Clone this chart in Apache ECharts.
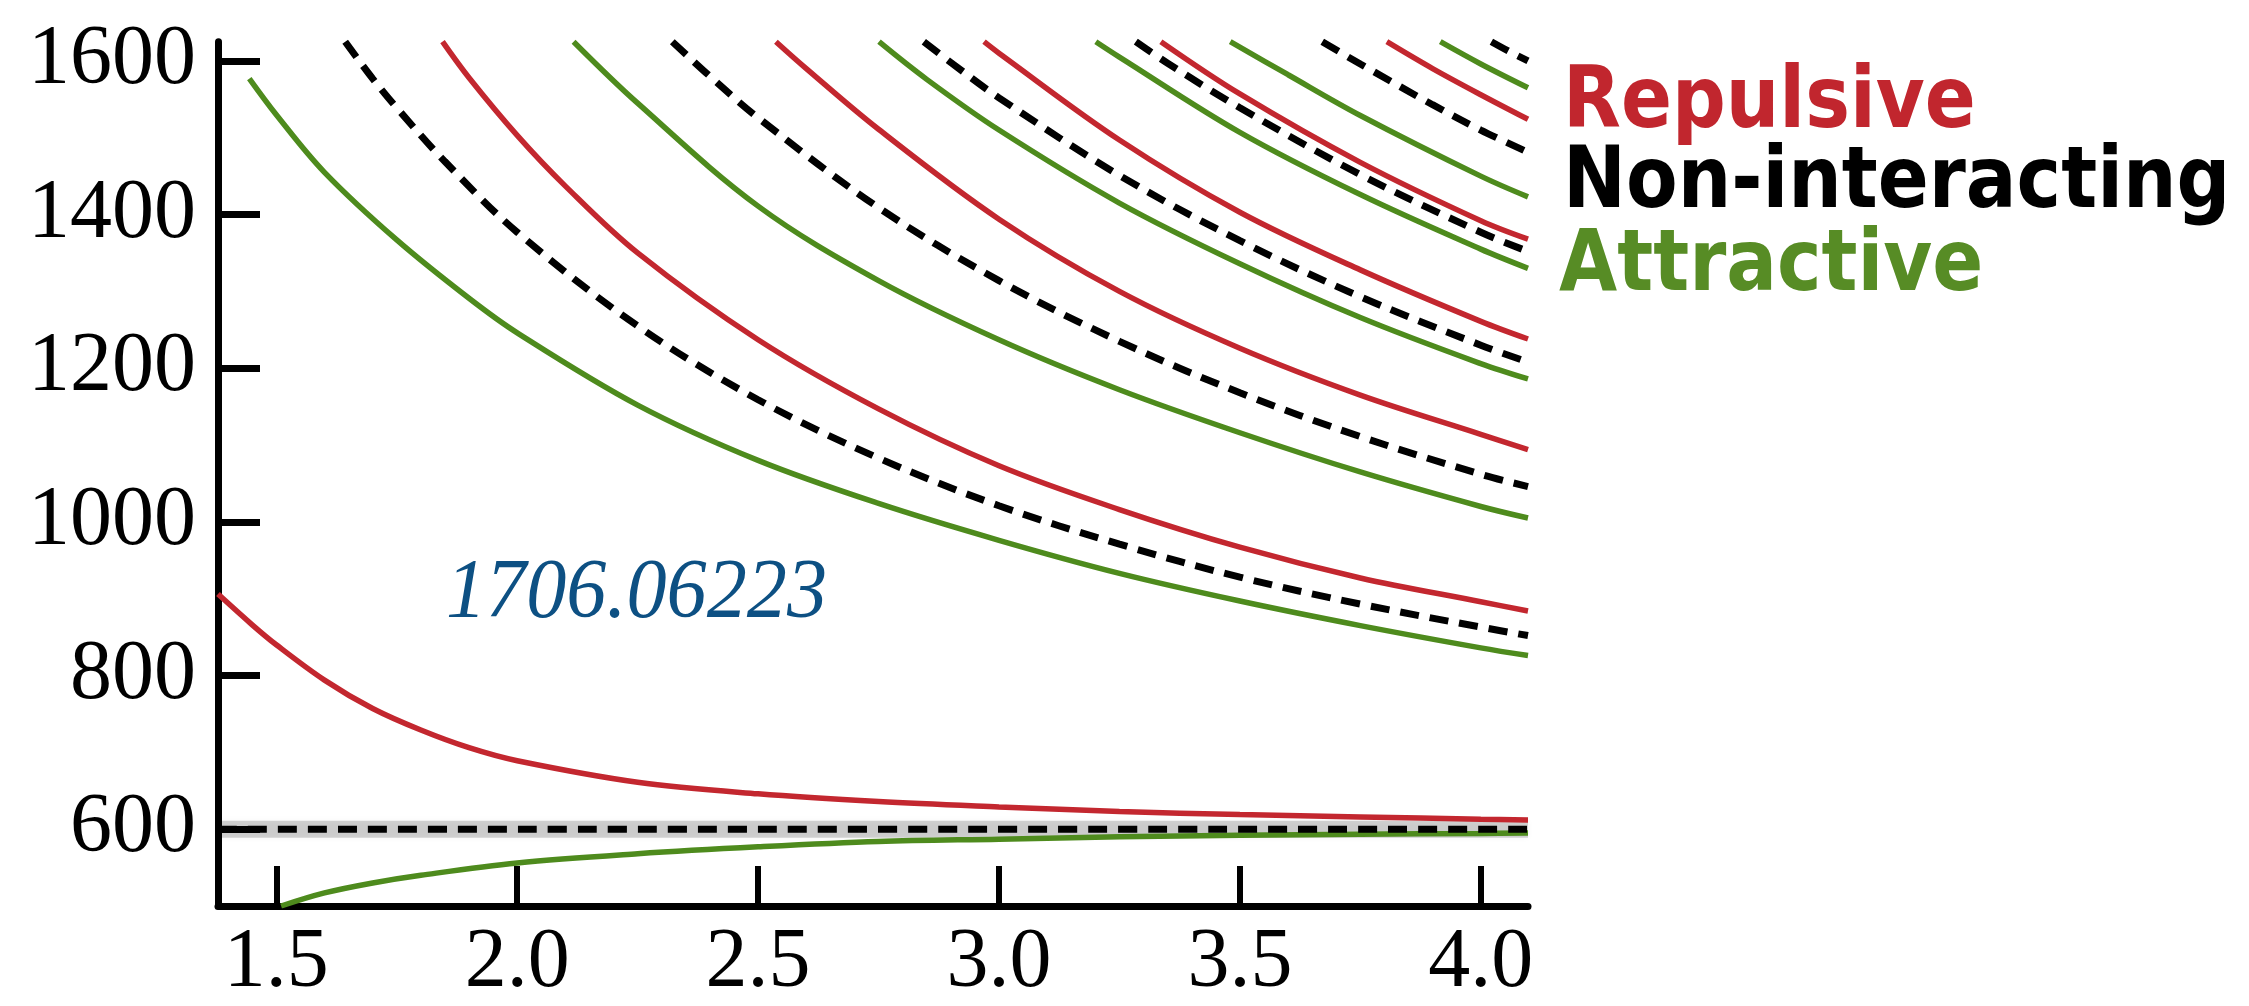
<!DOCTYPE html>
<html><head><meta charset="utf-8">
<script src="https://cdn.jsdelivr.net/npm/echarts@6/dist/echarts.min.js"></script>
<style>html,body{margin:0;padding:0;background:#fff}#c{width:2249px;height:1006px}</style>
</head><body><div id="c"></div>
<script>
// x: box size L, y: energy
const xTicks = [1.5, 2.0, 2.5, 3.0, 3.5, 4.0];
const yTicks = [600, 800, 1000, 1200, 1400, 1600];
const legendLabels = ['Repulsive', 'Non-interacting', 'Attractive'];
const noteLabel = '1706.06223';

// Non-interacting (dashed black)
const nonInt0 = [[1.379,600],[4.098,600]];
const nonInt1 = [[1.643,1625],[1.7,1577],[1.75,1539],[1.85,1469],[2.0,1377],[2.25,1255],[2.5,1159],[2.75,1083],[3.0,1021],[3.25,971],[3.5,928],[3.75,893],[4.0,863],[4.098,852]];
const nonInt2 = [[2.322,1625],[2.4,1580],[2.5,1526],[2.75,1409],[3.0,1314],[3.25,1235],[3.5,1168],[3.75,1111],[4.0,1062],[4.098,1046]];
const nonInt3 = [[2.844,1625],[2.9,1598],[3.0,1552],[3.25,1451],[3.5,1366],[3.75,1293],[4.0,1230],[4.098,1208]];
const nonInt4 = [[3.284,1625],[3.35,1597],[3.5,1539],[3.75,1452],[4.0,1377],[4.098,1352]];
const nonInt5 = [[3.671,1625],[3.75,1596],[3.9,1543],[4.0,1510],[4.098,1481]];
const nonInt6 = [[4.022,1625],[4.06,1612],[4.098,1600]];

// Repulsive (red)
const rep0 = [[1.379,906],[1.45,866],[1.5,840],[1.6,794],[1.7,757],[1.8,729],[1.9,706],[2.0,689],[2.25,661],[2.5,646],[2.75,636],[3.0,629],[3.25,623],[3.5,619],[3.75,616],[4.0,613],[4.098,612]];
const rep1 = [[1.845,1625],[1.9,1578],[2.0,1503],[2.1,1437],[2.25,1350],[2.5,1237],[2.75,1147],[3.0,1073],[3.25,1016],[3.5,967],[3.75,927],[4.0,896],[4.098,884]];
const rep2 = [[2.537,1625],[2.6,1590],[2.75,1511],[3.0,1394],[3.25,1300],[3.5,1226],[3.75,1165],[4.0,1114],[4.098,1094]];
const rep3 = [[2.969,1625],[3.0,1610],[3.25,1497],[3.5,1403],[3.75,1328],[4.0,1261],[4.098,1238]];
const rep4 = [[3.336,1625],[3.5,1557],[3.75,1468],[4.0,1392],[4.098,1368]];
const rep5 = [[3.805,1625],[3.9,1590],[4.0,1556],[4.098,1524]];

// Attractive (green)
const att0 = [[1.51,500],[1.6,517],[1.7,530],[1.8,540],[2.0,556],[2.25,568],[2.5,577],[2.75,584],[3.0,587],[3.25,590],[3.5,592],[3.75,593.5],[4.0,594.5],[4.098,595]];
const att1 = [[1.444,1577],[1.5,1530],[1.6,1455],[1.75,1367],[1.9,1291],[2.0,1246],[2.25,1152],[2.5,1080],[2.75,1024],[3.0,976],[3.25,933],[3.5,897],[3.75,865],[4.0,836],[4.098,826]];
const att2 = [[2.117,1625],[2.25,1545],[2.5,1411],[2.75,1314],[3.0,1237],[3.25,1172],[3.5,1116],[3.75,1065],[4.0,1020],[4.098,1005]];
const att3 = [[2.751,1625],[2.85,1576],[3.0,1510],[3.25,1415],[3.5,1336],[3.75,1266],[4.0,1206],[4.098,1186]];
const att4 = [[3.201,1625],[3.25,1605],[3.5,1507],[3.75,1426],[4.0,1355],[4.098,1330]];
const att5 = [[3.48,1625],[3.6,1582],[3.75,1529],[4.0,1450],[4.098,1423]];
const att6 = [[3.916,1625],[4.0,1596],[4.098,1565]];

const RED = '#c3272f', GREEN = '#4e8b1d', BLACK = '#000000';
const LEG_RED = '#c1262e', LEG_GREEN = '#578c25';

function line(data, color, dashed, width) {
  return {
    type: 'line', data: data, symbol: 'none', smooth: 0.35,
    clip: true, silent: true, animation: false,
    lineStyle: { color: color, width: width, type: dashed ? [19, 11] : 'solid', cap: 'butt' },
    z: dashed ? 3 : 2
  };
}

const series = [];
// soft grey band behind the threshold line
series.push({
  type: 'line', data: nonInt0, symbol: 'none', silent: true, animation: false, z: 1,
  lineStyle: { color: 'rgba(0,0,0,0.17)', width: 17, shadowBlur: 6, shadowColor: 'rgba(0,0,0,0.25)' }
});
[rep0, rep1, rep2, rep3, rep4, rep5].forEach(d => series.push(line(d, RED, false, 5.5)));
[att0, att1, att2, att3, att4, att5, att6].forEach(d => series.push(line(d, GREEN, false, 5.5)));
[nonInt0, nonInt1, nonInt2, nonInt3, nonInt4, nonInt5, nonInt6].forEach(d => series.push(line(d, BLACK, true, 7)));

const tickFont = { fontFamily: '"Liberation Serif", "DejaVu Serif", serif', fontSize: 84, color: '#000' };

const chart = echarts.init(document.getElementById('c'), null, { renderer: 'canvas' });
chart.setOption({
  backgroundColor: '#ffffff',
  animation: false,
  grid: { left: 218, right: 721, top: 41.7, bottom: 96.3, containLabel: false },
  xAxis: {
    type: 'value', min: 1.379, max: 4.098,
    axisLine: { show: true, onZero: false, lineStyle: { color: '#000', width: 7 } },
    axisTick: { show: true, inside: true, length: 40, customValues: xTicks, lineStyle: { color: '#000', width: 6 } },
    axisLabel: Object.assign({ show: true, margin: 16, customValues: xTicks, formatter: v => v.toFixed(1) }, tickFont),
    splitLine: { show: false }
  },
  yAxis: {
    type: 'value', min: 500, max: 1625,
    axisLine: { show: true, onZero: false, lineStyle: { color: '#000', width: 7 } },
    axisTick: { show: true, inside: true, length: 42, customValues: yTicks, lineStyle: { color: '#000', width: 7 } },
    axisLabel: Object.assign({ show: true, margin: 22, customValues: yTicks, padding: [0, 0, 18, 0], formatter: v => String(v) }, tickFont),
    splitLine: { show: false }
  },
  graphic: [
    { type: 'text', x: 446, y: 595, scaleX: 0.955, silent: true,
      style: { text: noteLabel, fill: '#0d5083', font: 'italic 84px "Liberation Serif", "DejaVu Serif", serif', align: 'left', verticalAlign: 'middle' } },
    { type: 'text', x: 1563, y: 105, scaleX: 0.885, silent: true,
      style: { text: legendLabels[0], fill: LEG_RED, font: 'bold 85px "DejaVu Sans", sans-serif', align: 'left', verticalAlign: 'middle' } },
    { type: 'text', x: 1563, y: 185, scaleX: 0.885, silent: true,
      style: { text: legendLabels[1], fill: '#000', font: 'bold 85px "DejaVu Sans", sans-serif', align: 'left', verticalAlign: 'middle' } },
    { type: 'text', x: 1559, y: 268, scaleX: 0.885, silent: true,
      style: { text: legendLabels[2], fill: LEG_GREEN, font: 'bold 85px "DejaVu Sans", sans-serif', align: 'left', verticalAlign: 'middle' } }
  ],
  series: series
});
</script>
</body></html>
